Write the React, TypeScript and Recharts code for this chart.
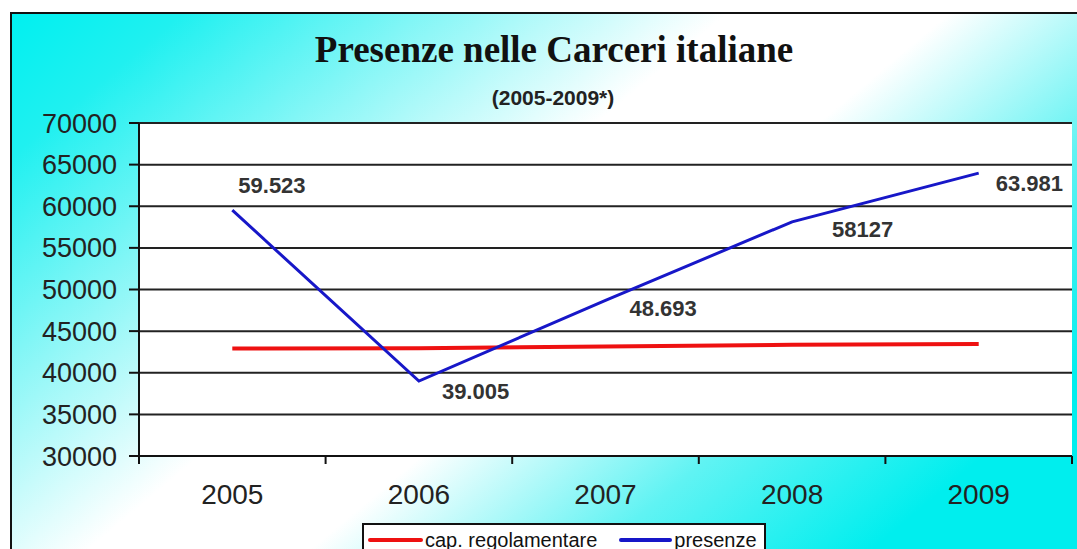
import React from "react";
import { CartesianGrid, Line, LineChart, XAxis, YAxis } from "recharts";

const years = ["2005", "2006", "2007", "2008", "2009"];
const capRegolamentare = [42900, 42950, 43150, 43350, 43450];
const presenze = [59523, 39005, 48693, 58127, 63981];
const presenzeLabels = ["59.523", "39.005", "48.693", "58127", "63.981"];
const yTicks = [30000, 35000, 40000, 45000, 50000, 55000, 60000, 65000, 70000];
const seriesNames = ["cap. regolamentare", "presenze"];
const seriesColors = ["#ee1111", "#1717c8"];

const data = years.map((year, i) => ({
  year,
  cap: capRegolamentare[i],
  presenze: presenze[i],
}));

const FONT = "Arial, 'Liberation Sans', sans-serif";

// per-point label offsets
const labelOffsets = [
  [6, -25],
  [23, 10],
  [24, 8],
  [40, 8],
  [17, 10],
];

function PresenzeLabel(props: any) {
  const { x, y, index } = props;
  const [dx, dy] = labelOffsets[index] || [8, 0];
  return (
    <text
      x={x + dx}
      y={y + dy}
      textAnchor="start"
      dominantBaseline="central"
      fontFamily={FONT}
      fontSize={22}
      fontWeight="bold"
      fill="#333"
    >
      {presenzeLabels[index]}
    </text>
  );
}

// Excel-style category ticks: marks between categories, label in the middle
function YearTick(props: any) {
  const { x, y, payload, index } = props;
  const half = payload && payload.offset ? payload.offset : 93.3;
  const last = index === years.length - 1;
  return (
    <g>
      <line x1={x - half} y1={y} x2={x - half} y2={y + 8} stroke="#111" strokeWidth={2} />
      {last && (
        <line x1={x + half} y1={y} x2={x + half} y2={y + 8} stroke="#111" strokeWidth={2} />
      )}
      <text
        x={x}
        y={y + 38}
        textAnchor="middle"
        dominantBaseline="central"
        fontFamily={FONT}
        fontSize={28}
        fill="#222"
      >
        {payload.value}
      </text>
    </g>
  );
}

export default function App() {
  return (
    <div
      style={{
        position: "fixed",
        left: 10,
        top: 12,
        width: 1067,
        height: 537,
        boxSizing: "border-box",
        borderLeft: "2px solid #111",
        borderTop: "2px solid #111",
        overflow: "hidden",
        background:
          "linear-gradient(140deg, #00f0f0 0%, #20f0f0 10%, #90f7f7 26%, #ffffff 42%, #ffffff 55%, #60f3f3 72%, #00eeee 88%, #00eeee 100%)",
      }}
    >
      <svg
        width={1065}
        height={110}
        style={{ position: "absolute", left: 0, top: 0 }}
      >
        <text
          x={542}
          y={48}
          textAnchor="middle"
          fontFamily="'Liberation Serif', 'Times New Roman', serif"
          fontWeight="bold"
          fontSize={37}
          fill="#111"
        >
          Presenze nelle Carceri italiane
        </text>
        <text
          x={541}
          y={91}
          textAnchor="middle"
          fontFamily={FONT}
          fontWeight="bold"
          fontSize={21}
          fill="#222"
        >
          (2005-2009*)
        </text>
      </svg>

      <div style={{ position: "absolute", left: 0, top: 0 }}>
        <LineChart
          width={1065}
          height={535}
          data={data}
          margin={{ top: 109, right: 5, bottom: 53, left: 0 }}
        >
          <CartesianGrid
            vertical={false}
            stroke="#222"
            strokeWidth={2}
            fill="#ffffff"
            fillOpacity={1}
          />
          <XAxis
            dataKey="year"
            scale="band"
            interval={0}
            height={40}
            tickSize={0}
            tickMargin={0}
            tickLine={false}
            axisLine={{ stroke: "#111", strokeWidth: 2 }}
            tick={<YearTick />}
          />
          <YAxis
            width={127}
            domain={[30000, 70000]}
            ticks={yTicks}
            interval={0}
            tickSize={10}
            tickMargin={12}
            axisLine={{ stroke: "#111", strokeWidth: 2 }}
            tickLine={{ stroke: "#111", strokeWidth: 2 }}
            tick={{ fontSize: 27, fill: "#222", fontFamily: FONT }}
          />
          <YAxis
            yAxisId="right"
            orientation="right"
            width={0}
            domain={[30000, 70000]}
            tick={false}
            tickLine={false}
            axisLine={{ stroke: "#999", strokeWidth: 1 }}
          />
          <Line
            dataKey="cap"
            name={seriesNames[0]}
            stroke={seriesColors[0]}
            strokeWidth={4}
            dot={false}
            isAnimationActive={false}
          />
          <Line
            dataKey="presenze"
            name={seriesNames[1]}
            stroke={seriesColors[1]}
            strokeWidth={3}
            dot={false}
            label={<PresenzeLabel />}
            isAnimationActive={false}
          />
        </LineChart>
      </div>

      <div
        style={{
          position: "absolute",
          left: 350,
          top: 509,
          width: 404,
          height: 40,
          boxSizing: "border-box",
          border: "2px solid #111",
          background: "#fff",
          display: "flex",
          alignItems: "flex-start",
          paddingLeft: 4,
          paddingTop: 4,
          fontFamily: FONT,
          fontSize: 20,
          color: "#111",
          lineHeight: "22px",
        }}
      >
        {seriesNames.map((name, i) => (
          <div
            key={name}
            style={{ display: "flex", alignItems: "center", marginLeft: i === 0 ? 0 : 22 }}
          >
            <span
              style={{
                display: "inline-block",
                width: i === 0 ? 55 : 53,
                height: 4,
                background: seriesColors[i],
                borderRadius: 2,
                marginRight: 2,
              }}
            />
            <span>{name}</span>
          </div>
        ))}
      </div>
    </div>
  );
}
